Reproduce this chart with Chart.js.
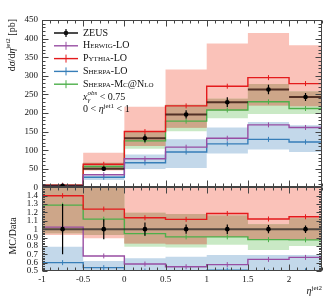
<!DOCTYPE html>
<html>
<head>
<meta charset="utf-8">
<script src="https://cdn.jsdelivr.net/npm/chart.js@4.4.1/dist/chart.umd.min.js"></script>
<style>
body { margin: 0; background: #fff; }
canvas { display: block; }
</style>
</head>
<body>
<canvas id="zeusChart" width="332" height="300"></canvas>
<script>
const binEdges = [-1, -0.5, 0, 0.5, 1, 1.5, 2, 2.4];
const zeus = [4, 50, 132, 196, 229, 263, 243];
const zeusErr = [1.2, 6, 10.5, 11, 13, 13, 11];
const herwig = [4.1, 34, 77, 108, 132, 168, 161];
const pythia = [5.6, 62, 150, 219, 272, 295, 279];
const sherpaLO = [2.4, 27, 66, 95, 117, 129, 122];
const sherpaNLO = [5.15, 56, 125, 178, 208, 230, 212];

// uncertainty bands in the main panel [pb]
const pythiaLow = [3.7, 45, 111, 160, 207, 220, 218];
const pythiaHigh = [7.5, 93, 217, 317, 387, 415, 382];
const sherpaNLOLow = [3.8, 47, 104, 151, 186, 197, 197];
const sherpaNLOHigh = [6.5, 66, 150, 222, 238, 278, 258];
const sherpaLOLow = [1.6, 20, 49, 52, 91, 102, 95];
const sherpaLOHigh = [3.2, 31, 88, 129, 161, 176, 167];

// bands
const pythiaRatioLow = [0.93, 0.89, 0.83, 0.82, 0.906, 0.88, 0.87];
const sherpaNLORatioLow = [0.95, 0.93, 0.79, 0.78, 0.813, 0.75, 0.8];
const sherpaNLORatioHigh = [1.6, 1.55, 1.195, 1.18, 1.163, 1.06, 1.13];
const sherpaLORatioHigh = [0.79, 0.62, 0.653, 0.67, 0.69, 0.69, 0.69];

const seriesNames = ['ZEUS', 'Herwig-LO', 'Pythia-LO', 'Sherpa-LO', 'Sherpa-Mc@Nlo'];
const xTicks = [-1, -0.5, 0, 0.5, 1, 1.5, 2];
const mainTicks = [0, 50, 100, 150, 200, 250, 300, 350, 400, 450];
const ratioTicks = [0.5, 0.6, 0.7, 0.8, 0.9, 1, 1.1, 1.2, 1.3, 1.4];

const purple = '#984ea3', red = '#e41a1c', blue = '#377eb8', green = '#4daf4a';
const pinkFill = 'rgba(245,120,100,0.45)';
const greenFill = 'rgba(120,200,110,0.4)';
const brownFill = 'rgb(205,166,137)';
const blueFill = 'rgba(55,126,184,0.3)';
const serif = '"Liberation Serif", serif';

const clamp = (v, lo, hi) => Math.min(Math.max(v, lo), hi);
const centres = binEdges.slice(0, -1).map((e, i) => (e + binEdges[i + 1]) / 2);
const ratio = vals => vals.map((v, i) => v / zeus[i]);

function histPoints(vals, lo, hi) {
    const pts = [];
    vals.forEach((v, i) => {
        const y = lo === undefined ? v : clamp(v, lo, hi);
        pts.push({ x: binEdges[i], y: y }, { x: binEdges[i + 1], y: y });
    });
    return pts;
}

function barPoints(vals) {
    const pts = [];
    vals.forEach((v, i) => {
        pts.push({ x: binEdges[i], y: v }, { x: binEdges[i + 1], y: v }, { x: binEdges[i + 1], y: null });
    });
    return pts;
}

const datasets = [];

function addBand(low, high, color, axis, lo, hi, order) {
    datasets.push({ data: histPoints(low, lo, hi), yAxisID: axis, borderWidth: 0, borderColor: 'transparent', pointRadius: 0, fill: false, order: order });
    datasets.push({ data: histPoints(high, lo, hi), yAxisID: axis, borderWidth: 0, borderColor: 'transparent', pointRadius: 0, fill: '-1', backgroundColor: color, order: order });
}

function addOverlap(lowA, highA, lowB, highB, axis, lo, hi) {
    const low = lowA.map((v, i) => Math.max(v, lowB[i]));
    const high = highA.map((v, i) => Math.max(low[i], Math.min(highA[i], highB[i])));
    addBand(low, high, brownFill, axis, lo, hi, 8);
}

function addLine(vals, color, axis) {
    datasets.push({ data: histPoints(vals), yAxisID: axis, borderColor: color, borderWidth: 1.4, pointRadius: 0, fill: false, order: 5 });
    datasets.push({
        data: vals.map((v, i) => ({ x: centres[i], y: v })), yAxisID: axis, showLine: false,
        pointStyle: 'line', rotation: 90, pointRadius: 2.5, pointBorderColor: color, pointBorderWidth: 1, order: 4
    });
}

function addData(vals, axis, barColor) {
    datasets.push({ data: barPoints(vals), yAxisID: axis, borderColor: barColor, borderWidth: 2, pointRadius: 0, fill: false, spanGaps: false, order: 3 });
    datasets.push({
        data: vals.map((v, i) => ({ x: centres[i], y: v })), yAxisID: axis, showLine: false,
        pointRadius: 2.3, pointBackgroundColor: '#000', pointBorderColor: '#000', pointBorderWidth: 0, order: 1
    });
}

// main panel
addBand(pythiaLow, pythiaHigh, pinkFill, 'y', 0, 450, 10);
addBand(sherpaNLOLow, sherpaNLOHigh, greenFill, 'y', 0, 450, 9);
addOverlap(pythiaLow, pythiaHigh, sherpaNLOLow, sherpaNLOHigh, 'y', 0, 450);
addBand(sherpaLOLow, sherpaLOHigh, blueFill, 'y', 0, 450, 7);
addLine(herwig, purple, 'y');
addLine(pythia, red, 'y');
addLine(sherpaLO, blue, 'y');
addLine(sherpaNLO, green, 'y');
addData(zeus, 'y', 'rgba(40,10,5,0.75)');

// ratio panel
const pythiaRatioHigh = ratio(pythiaHigh);
const sherpaLORatioLow = ratio(sherpaLOLow);
addBand(pythiaRatioLow, pythiaRatioHigh, pinkFill, 'yr', 0.5, 1.5, 10);
addBand(sherpaNLORatioLow, sherpaNLORatioHigh, greenFill, 'yr', 0.5, 1.5, 9);
addOverlap(pythiaRatioLow, pythiaRatioHigh, sherpaNLORatioLow, sherpaNLORatioHigh, 'yr', 0.5, 1.5);
addBand(sherpaLORatioLow, sherpaLORatioHigh, blueFill, 'yr', 0.5, 1.5, 7);
addLine(ratio(herwig), purple, 'yr');
addLine(ratio(pythia), red, 'yr');
addLine(ratio(sherpaLO), blue, 'yr');
addLine(ratio(sherpaNLO), green, 'yr');
addData(ratio(zeus), 'yr', 'rgba(30,30,30,0.7)');

// keep each dataset inside its own panel
const panelClip = {
    id: 'panelClip',
    beforeDatasetDraw(chart, args) {
        const ys = args.meta.yScale;
        const a = chart.chartArea;
        chart.ctx.save();
        chart.ctx.beginPath();
        chart.ctx.rect(a.left, ys.top, a.right - a.left, ys.bottom - ys.top);
        chart.ctx.clip();
    },
    afterDatasetDraw(chart) {
        chart.ctx.restore();
    }
};

function richText(ctx, x, y, parts, measureOnly) {
    let x0 = x;
    parts.forEach(p => {
        ctx.font = p.font;
        if (!measureOnly) ctx.fillText(p.t, x, y + (p.dy || 0));
        if (!p.keep) x += ctx.measureText(p.t).width;
    });
    return x - x0;
}

const f10 = '10px ' + serif, i10 = 'italic 10px ' + serif, f7 = '7px ' + serif, i7 = 'italic 7px ' + serif;
const yTitle = [{ t: 'd', font: f10 }, { t: 'σ', font: i10 }, { t: '/d', font: f10 }, { t: 'η', font: i10 },
    { t: 'jet2', font: f7, dy: -4 }, { t: ' [pb]', font: f10 }];

const decorations = {
    id: 'decorations',
    afterDatasetsDraw(chart) {
        const ctx = chart.ctx, a = chart.chartArea;
        const x = chart.scales.x, ym = chart.scales.y, yr = chart.scales.yr;
        ctx.save();

        // data error bars
        ctx.strokeStyle = '#000';
        ctx.lineWidth = 1.2;
        centres.forEach((c, i) => {
            const px = x.getPixelForValue(c);
            const r = zeusErr[i] / zeus[i];
            ctx.beginPath();
            ctx.moveTo(px, ym.getPixelForValue(zeus[i] - zeusErr[i]));
            ctx.lineTo(px, ym.getPixelForValue(zeus[i] + zeusErr[i]));
            ctx.moveTo(px, yr.getPixelForValue(1 - r));
            ctx.lineTo(px, yr.getPixelForValue(1 + r));
            ctx.stroke();
        });

        // frames and inward ticks
        ctx.strokeStyle = '#444';
        ctx.lineWidth = 1;
        const L = Math.round(a.left) + 0.5, R = Math.round(a.right) - 0.5;
        [ym, yr].forEach(ys => {
            const T = Math.round(ys.top) + 0.5, B = Math.round(ys.bottom) - 0.5;
            ctx.strokeRect(L, T, R - L, B - T);
            ctx.beginPath();
            for (let k = 0; k <= 34; k++) {
                const px = Math.round(x.getPixelForValue(-1 + k * 0.1)) + 0.5;
                const len = k % 5 === 0 ? 6 : 3;
                ctx.moveTo(px, T); ctx.lineTo(px, T + len);
                ctx.moveTo(px, B); ctx.lineTo(px, B - len);
            }
            ctx.stroke();
        });
        ctx.beginPath();
        for (let k = 0; k <= 45; k++) {
            const py = Math.round(ym.getPixelForValue(k * 10)) + 0.5;
            const len = k % 5 === 0 ? 6 : 3;
            ctx.moveTo(L, py); ctx.lineTo(L + len, py);
            ctx.moveTo(R, py); ctx.lineTo(R - len, py);
        }
        for (let k = 0; k <= 50; k++) {
            const py = Math.round(yr.getPixelForValue(0.5 + k * 0.02)) + 0.5;
            const len = k % 5 === 0 ? 5 : 2.5;
            ctx.moveTo(L, py); ctx.lineTo(L + len, py);
            ctx.moveTo(R, py); ctx.lineTo(R - len, py);
        }
        ctx.stroke();

        // legend
        const colors = ['#000', purple, red, blue, green];
        ctx.fillStyle = '#111';
        ctx.textBaseline = 'middle';
        seriesNames.forEach((name, i) => {
            const yy = a.top + 13 + i * 12.8;
            const x1 = a.left + 12, x2 = a.left + 36, xc = (x1 + x2) / 2;
            ctx.strokeStyle = i === 0 ? 'rgba(0,0,0,0.7)' : colors[i];
            ctx.lineWidth = i === 0 ? 2 : 1.4;
            ctx.beginPath();
            ctx.moveTo(x1, yy); ctx.lineTo(x2, yy);
            ctx.stroke();
            ctx.strokeStyle = colors[i];
            ctx.lineWidth = i === 0 ? 1.2 : 1;
            ctx.beginPath();
            ctx.moveTo(xc, yy - 4); ctx.lineTo(xc, yy + 4);
            ctx.stroke();
            if (i === 0) {
                ctx.beginPath();
                ctx.arc(xc, yy, 2.3, 0, Math.PI * 2);
                ctx.fill();
                ctx.font = f10;
            } else {
                ctx.font = 'small-caps 10px ' + serif;
            }
            ctx.fillText(name, a.left + 41, yy);
        });
        const ty = a.top + 13 + 5 * 12.8;
        richText(ctx, a.left + 41, ty, [{ t: 'x', font: i10 }, { t: 'γ', font: i7, dy: 3, keep: true },
            { t: 'obs', font: i7, dy: -4 }, { t: ' < 0.75', font: f10 }]);
        richText(ctx, a.left + 41, ty + 12.8, [{ t: '0 < ', font: f10 }, { t: 'η', font: i10 },
            { t: 'jet1', font: f7, dy: -4 }, { t: ' < 1', font: f10 }]);

        // axis titles
        ctx.save();
        ctx.translate(12, a.top - 1);
        ctx.rotate(-Math.PI / 2);
        const w = richText(ctx, 0, 0, yTitle, true);
        richText(ctx, -w, 0, yTitle);
        ctx.restore();

        ctx.save();
        ctx.translate(13, 236);
        ctx.rotate(-Math.PI / 2);
        ctx.font = f10;
        ctx.textAlign = 'center';
        ctx.fillText('MC/Data', 0, 0);
        ctx.restore();

        const xTitle = [{ t: 'η', font: i10 }, { t: 'jet2', font: f7, dy: -4 }];
        const xw = richText(ctx, 0, 0, xTitle, true);
        ctx.textBaseline = 'alphabetic';
        richText(ctx, a.right - xw, 294, xTitle);

        ctx.restore();
    }
};

const tickFont = { family: serif, size: 9 };

new Chart(document.getElementById('zeusChart').getContext('2d'), {
    type: 'line',
    data: { datasets: datasets },
    options: {
        responsive: false,
        animation: false,
        layout: { padding: { top: 20, right: 10, left: 0, bottom: 0 } },
        plugins: { legend: { display: false }, tooltip: { enabled: false } },
        scales: {
            x: {
                type: 'linear', min: -1, max: 2.4,
                grid: { display: false, drawTicks: false }, border: { display: false },
                afterBuildTicks: s => { s.ticks = xTicks.map(v => ({ value: v })); },
                afterFit: s => { s.height = 29; },
                ticks: { padding: 3, color: '#111', font: tickFont, autoSkip: false, maxRotation: 0, callback: v => v }
            },
            yr: {
                type: 'linear', position: 'left', stack: 'panels', stackWeight: 1, min: 0.5, max: 1.5,
                grid: { display: false, drawTicks: false }, border: { display: false },
                afterBuildTicks: s => { s.ticks = ratioTicks.map(v => ({ value: v })); },
                afterFit: s => { s.width = 42; },
                ticks: { padding: 4, color: '#111', font: tickFont, autoSkip: false, callback: v => v }
            },
            y: {
                type: 'linear', position: 'left', stack: 'panels', stackWeight: 2, min: 0, max: 450,
                grid: { display: false, drawTicks: false }, border: { display: false },
                afterBuildTicks: s => { s.ticks = mainTicks.map(v => ({ value: v })); },
                afterFit: s => { s.width = 42; },
                ticks: { padding: 4, color: '#111', font: tickFont, autoSkip: false, callback: v => v }
            }
        }
    },
    plugins: [panelClip, decorations]
});
</script>
</body>
</html>
